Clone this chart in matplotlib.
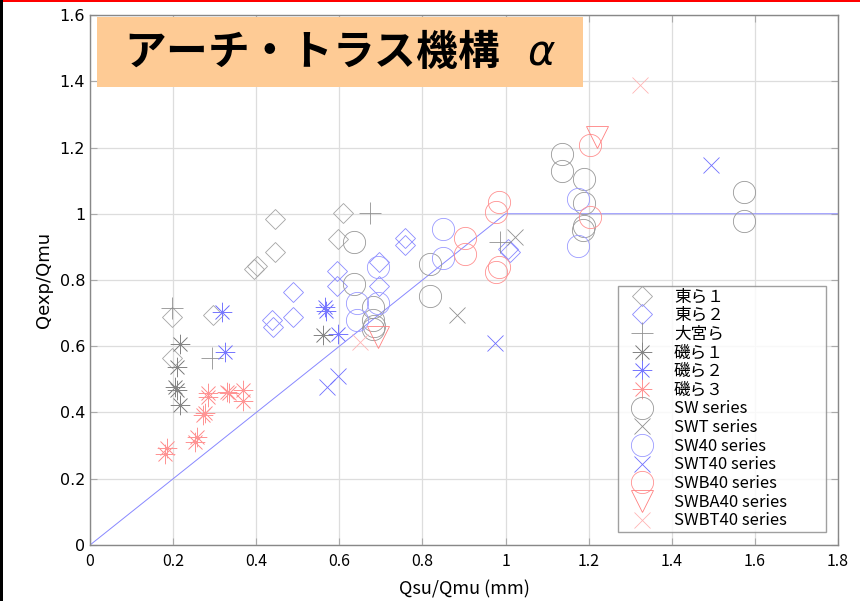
import matplotlib
matplotlib.use("Agg")
import matplotlib.pyplot as plt
from matplotlib.patches import Rectangle

plt.rcParams['font.family'] = ['Noto Sans CJK JP', 'DejaVu Sans']

# ---- data: (Qsu/Qmu, Qexp/Qmu) per series ----
higashi1_x = [0.197, 0.197, 0.297, 0.395, 0.401, 0.445, 0.445, 0.596, 0.608]
higashi1_y = [0.687, 0.564, 0.694, 0.832, 0.842, 0.885, 0.984, 0.923, 1.001]

higashi2_x = [0.489, 0.437, 0.440, 0.488, 0.595, 0.594, 0.696, 0.696, 0.758, 0.758, 1.006, 1.011]
higashi2_y = [0.765, 0.679, 0.659, 0.687, 0.828, 0.782, 0.855, 0.782, 0.926, 0.906, 0.895, 0.885]

omiya_x = [0.197, 0.293, 0.674, 0.987]
omiya_y = [0.714, 0.564, 1.001, 0.916]

iso1_x = [0.561, 0.217, 0.209, 0.204, 0.210, 0.217]
iso1_y = [0.634, 0.607, 0.537, 0.477, 0.468, 0.424]

iso2_x = [0.317, 0.325, 0.566, 0.568, 0.596]
iso2_y = [0.704, 0.584, 0.720, 0.707, 0.637]

iso3_x = [0.285, 0.285, 0.330, 0.334, 0.369, 0.369, 0.277, 0.273, 0.257, 0.253, 0.185, 0.181]
iso3_y = [0.458, 0.448, 0.463, 0.458, 0.468, 0.436, 0.399, 0.391, 0.327, 0.312, 0.292, 0.275]

sw_x = [0.636, 0.636, 0.682, 0.682, 0.684, 0.680, 0.818, 0.818,
        1.135, 1.135, 1.189, 1.189, 1.189, 1.187, 1.575, 1.575]
sw_y = [0.916, 0.787, 0.720, 0.678, 0.662, 0.652, 0.848, 0.753,
        1.180, 1.130, 1.104, 1.033, 0.963, 0.951, 1.066, 0.977]

swt_x = [0.882, 1.023]
swt_y = [0.694, 0.929]

sw40_x = [0.694, 0.642, 0.694, 0.642, 0.849, 0.849, 1.175, 1.175]
sw40_y = [0.838, 0.730, 0.730, 0.679, 0.953, 0.866, 1.044, 0.903]

swt40_x = [0.596, 0.570, 0.975, 1.495]
swt40_y = [0.510, 0.478, 0.611, 1.146]

swb40_x = [0.983, 0.977, 0.903, 0.903, 0.983, 0.977, 1.202, 1.202]
swb40_y = [1.036, 1.006, 0.926, 0.880, 0.840, 0.825, 1.208, 0.989]

swba40_x = [1.219, 0.692]
swba40_y = [1.233, 0.629]

swbt40_x = [1.324, 0.650]
swbt40_y = [1.389, 0.614]

# reference line Qexp = min(Qsu, Qmu)
ref_x = [0.0, 1.0, 1.8]
ref_y = [0.0, 1.0, 1.0]

title_text = "アーチ・トラス機構   $\\alpha$"
x_ticks = [0, 0.2, 0.4, 0.6, 0.8, 1, 1.2, 1.4, 1.6, 1.8]
x_tick_labels = ["0", "0.2", "0.4", "0.6", "0.8", "1", "1.2", "1.4", "1.6", "1.8"]
y_ticks = [0, 0.2, 0.4, 0.6, 0.8, 1, 1.2, 1.4, 1.6]
y_tick_labels = ["0", "0.2", "0.4", "0.6", "0.8", "1", "1.2", "1.4", "1.6"]

# label, x, y, marker, size, color, edge width
series = [
    ("東ら１", higashi1_x, higashi1_y, "D", 10.5, "#a4a4a4", 0.6),
    ("東ら２", higashi2_x, higashi2_y, "D", 10.5, "#8a8aff", 0.6),
    ("大宮ら", omiya_x, omiya_y, "+", 16, "#909090", 0.6),
    ("磯ら１", iso1_x, iso1_y, (8, 2, 0), 14, "#858585", 0.5),
    ("磯ら２", iso2_x, iso2_y, (8, 2, 0), 14, "#7878ff", 0.5),
    ("磯ら３", iso3_x, iso3_y, (8, 2, 0), 14, "#ff9494", 0.5),
    ("SW series", sw_x, sw_y, "o", 16, "#989898", 0.6),
    ("SWT series", swt_x, swt_y, "x", 12, "#909090", 0.6),
    ("SW40 series", sw40_x, sw40_y, "o", 16, "#9a9aff", 0.6),
    ("SWT40 series", swt40_x, swt40_y, "x", 12, "#6e6eff", 0.6),
    ("SWB40 series", swb40_x, swb40_y, "o", 16, "#ff9090", 0.6),
    ("SWBA40 series", swba40_x, swba40_y, "v", 16, "#ff8080", 0.6),
    ("SWBT40 series", swbt40_x, swbt40_y, "x", 12, "#ffb4b4", 0.6),
]

fig = plt.figure(figsize=(8.6, 6.01), dpi=100)
ax = fig.add_axes([0.1047, 0.0932, 0.8697, 0.8818])

ax.plot(ref_x, ref_y, color="#8888ff", lw=0.7, zorder=2)

for label, xs, ys, mk, ms, col, mew in series:
    ax.plot(xs, ys, linestyle="none", marker=mk, markersize=ms,
            markerfacecolor="none", markeredgecolor=col, markeredgewidth=mew,
            label=label, zorder=3)

ax.set_xlim(0, 1.8)
ax.set_ylim(0, 1.6)
ax.set_xticks(x_ticks)
ax.set_xticklabels(x_tick_labels)
ax.set_yticks(y_ticks)
ax.set_yticklabels(y_tick_labels, family="DejaVu Sans")
ax.tick_params(axis="both", direction="in", length=5, color="#aaaaaa",
               labelsize=11.5, top=True, right=True)
ax.tick_params(axis="x", pad=6)
ax.grid(True, color="#dddddd", lw=0.9)
ax.set_axisbelow(True)
for sp in ax.spines.values():
    sp.set_color("#888888")
    sp.set_linewidth(1.0)

ax.set_xlabel("Qsu/Qmu (mm)", fontsize=13, labelpad=7)
ax.set_ylabel("Qexp/Qmu", fontsize=13, family="DejaVu Sans", labelpad=5)

# title banner
ax.add_patch(Rectangle((0.0094, 0.864), 0.6497, 0.132, transform=ax.transAxes,
                       facecolor="#fecb95", edgecolor="none", zorder=5))
ax.text(0.334, 0.930, title_text, transform=ax.transAxes, fontsize=30,
        fontweight="bold", ha="center", va="center", zorder=6)

leg = ax.legend(loc="upper left", bbox_to_anchor=(0.706, 0.0245, 0.278, 0.4645),
                mode="expand", fontsize=12, frameon=True, fancybox=False,
                edgecolor="#888888", borderpad=0.15, labelspacing=0.1,
                handlelength=2.6, handletextpad=0.6, borderaxespad=0)
leg.get_frame().set_linewidth(1.0)

# page edges
fig.patches.append(Rectangle((0, 0.9965), 1, 0.0035, transform=fig.transFigure,
                             facecolor="#ff0000", edgecolor="none"))
fig.patches.append(Rectangle((0, 0), 0.0035, 1, transform=fig.transFigure,
                             facecolor="#000000", edgecolor="none"))

fig.savefig("out.png", dpi=100)
